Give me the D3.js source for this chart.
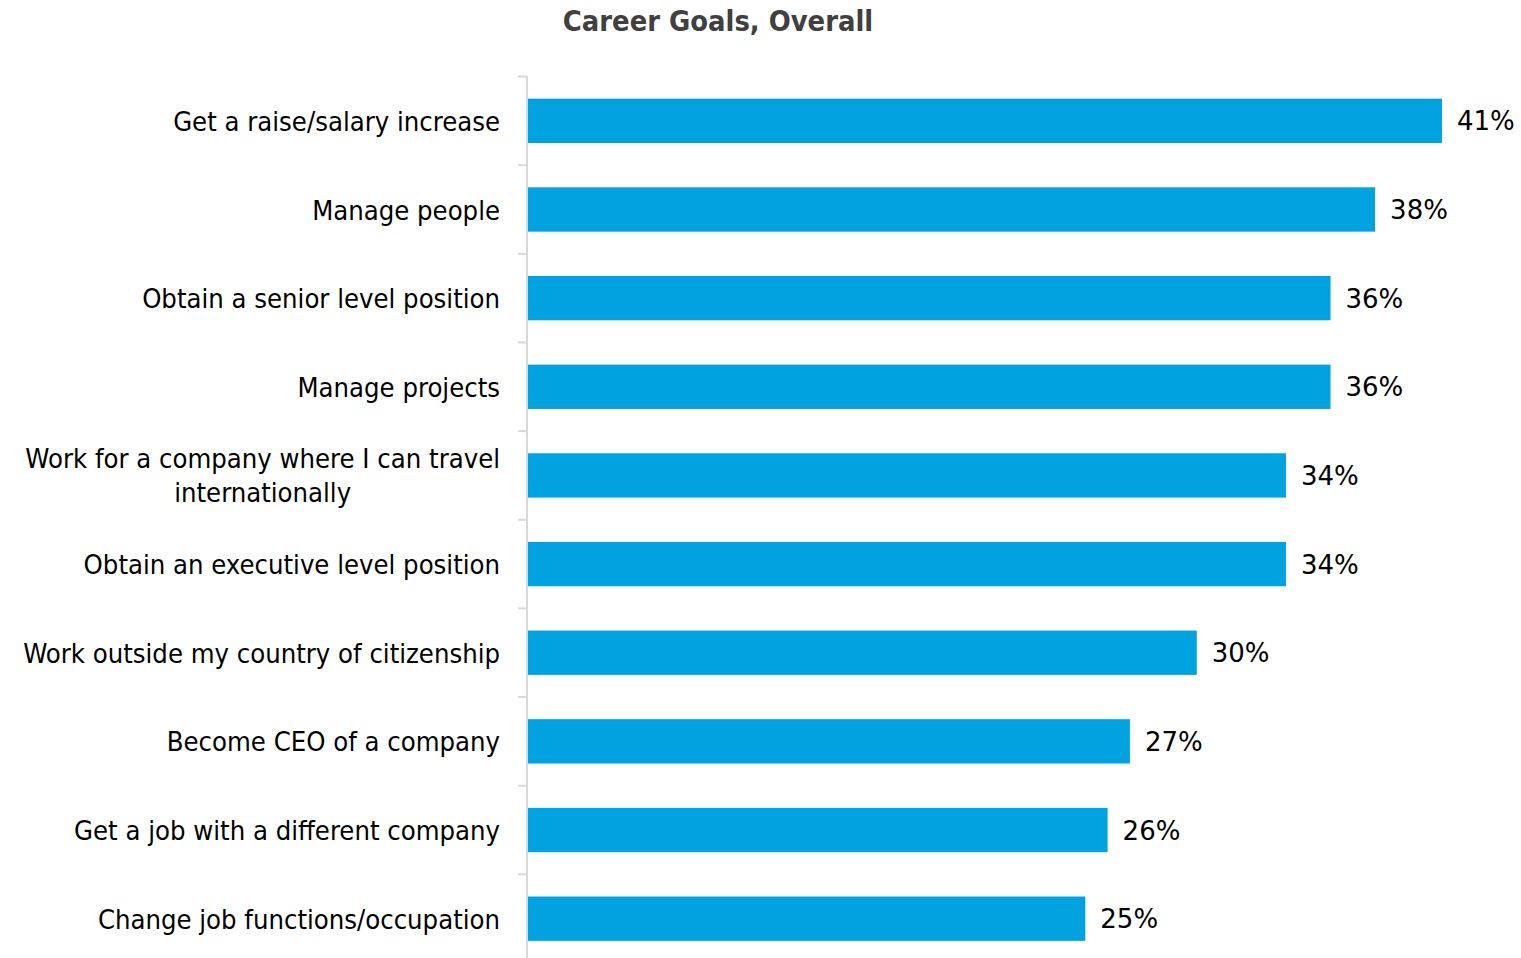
<!DOCTYPE html>
<html><head><meta charset="utf-8">
<script src="https://cdn.jsdelivr.net/npm/d3@7"></script>
<style>body{margin:0;background:#fff;} svg{display:block;}</style>
</head><body>
<svg id="chart" width="1521" height="958"></svg>
<script>
const categories = [
  "Get a raise/salary increase",
  "Manage people",
  "Obtain a senior level position",
  "Manage projects",
  "Work for a company where I can travel\ninternationally",
  "Obtain an executive level position",
  "Work outside my country of citizenship",
  "Become CEO of a company",
  "Get a job with a different company",
  "Change job functions/occupation"
];
const values = [41, 38, 36, 36, 34, 34, 30, 27, 26, 25];
const title = "Career Goals, Overall";

const svg = d3.select("#chart");
const FONT = "'DejaVu Sans Condensed', Tahoma, 'DejaVu Sans', sans-serif";
const VFONT = "'DejaVu Sans', Tahoma, sans-serif";
const x = d3.scaleLinear().domain([0, 41]).range([528, 1442]);
const y = d3.scaleBand().domain(categories).range([76.5, 963]).paddingInner(0.5).paddingOuter(0.25);

svg.append("text").attr("x", 718).attr("y", 30.5).attr("text-anchor", "middle")
  .attr("font-family", FONT).attr("font-weight", "bold").attr("font-size", 28.8)
  .attr("fill", "#404040").text(title);

const band = y.step();
const ag = svg.append("g");
ag.append("line").attr("x1", 527).attr("x2", 527).attr("y1", 76).attr("y2", 958)
  .attr("stroke", "#d9d9d9").attr("stroke-width", 2);
const bounds = d3.range(categories.length + 1).map(i => 76.5 + i * band);
ag.selectAll("line.tk").data(bounds).join("line").attr("class", "tk")
  .attr("x1", 518).attr("x2", 527).attr("y1", d => d).attr("y2", d => d)
  .attr("stroke", "#d9d9d9").attr("stroke-width", 2);

svg.selectAll("rect.bar").data(values).join("rect").attr("class", "bar")
  .attr("x", x(0)).attr("y", (d, i) => y(categories[i]))
  .attr("width", d => x(d) - x(0)).attr("height", y.bandwidth())
  .attr("fill", "#00a2e0");

svg.selectAll("text.val").data(values).join("text").attr("class", "val")
  .attr("x", d => x(d) + 15).attr("y", (d, i) => y(categories[i]) + y.bandwidth() / 2)
  .attr("dy", "0.37em").attr("font-family", VFONT).attr("font-size", 26).attr("fill", "#000")
  .text(d => d + "%");

categories.forEach((c, i) => {
  const lines = c.split("\n");
  const cy = y(c) + y.bandwidth() / 2;
  const g = svg.append("g");
  const lh = 34;
  const ts = lines.map((l, j) => g.append("text").attr("font-family", FONT).attr("font-size", 27.2)
    .attr("fill", "#000").attr("y", cy + (j - (lines.length - 1) / 2) * lh).attr("dy", "0.37em").text(l));
  const maxW = d3.max(ts, t => t.node().getComputedTextLength());
  ts.forEach(t => t.attr("text-anchor", "middle").attr("x", 500 - maxW / 2));
});
</script>
</body></html>
